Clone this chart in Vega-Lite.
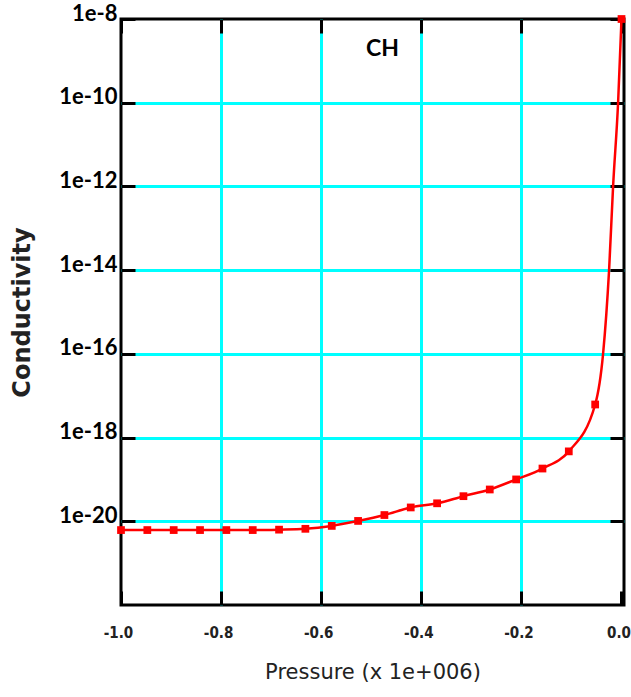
{
  "$schema": "https://vega.github.io/schema/vega-lite/v6.json",
  "autosize": "none",
  "padding": {"left": 121, "top": 19, "right": 7, "bottom": 92},
  "width": 503,
  "height": 586,
  "background": "white",
  "config": {
    "view": {"stroke": "black", "strokeWidth": 3},
    "axis": {"domain": false}
  },
  "title": {
    "text": "CH",
    "font": "Lato",
    "fontSize": 23,
    "fontWeight": "bold",
    "color": "black",
    "anchor": "middle",
    "frame": "group",
    "baseline": "middle",
    "offset": -70,
    "dx": 10
  },
  "data": {
    "values": [
      {"pressure": -1.0, "conductivity": 6.17e-21, "marker": true},
      {"pressure": -0.9474, "conductivity": 6.17e-21, "marker": true},
      {"pressure": -0.8947, "conductivity": 6.17e-21, "marker": true},
      {"pressure": -0.8421, "conductivity": 6.17e-21, "marker": true},
      {"pressure": -0.7895, "conductivity": 6.17e-21, "marker": true},
      {"pressure": -0.7368, "conductivity": 6.17e-21, "marker": true},
      {"pressure": -0.6842, "conductivity": 6.31e-21, "marker": true},
      {"pressure": -0.6316, "conductivity": 6.61e-21, "marker": true},
      {"pressure": -0.5789, "conductivity": 7.76e-21, "marker": true},
      {"pressure": -0.5263, "conductivity": 1.02e-20, "marker": true},
      {"pressure": -0.4737, "conductivity": 1.41e-20, "marker": true},
      {"pressure": -0.4211, "conductivity": 2.14e-20, "marker": true},
      {"pressure": -0.3684, "conductivity": 2.69e-20, "marker": true},
      {"pressure": -0.3158, "conductivity": 3.98e-20, "marker": true},
      {"pressure": -0.2632, "conductivity": 5.75e-20, "marker": true},
      {"pressure": -0.2105, "conductivity": 1.0e-19, "marker": true},
      {"pressure": -0.1579, "conductivity": 1.82e-19, "marker": true},
      {"pressure": -0.1053, "conductivity": 4.68e-19, "marker": true},
      {"pressure": -0.0526, "conductivity": 6.17e-18, "marker": true},
      {"pressure": -0.0368, "conductivity": 1.0e-16, "marker": false},
      {"pressure": -0.0248, "conductivity": 1.0e-14, "marker": false},
      {"pressure": -0.0168, "conductivity": 1.0e-12, "marker": false},
      {"pressure": -0.0068, "conductivity": 1.0e-10, "marker": false},
      {"pressure": 0.0, "conductivity": 1.0e-8, "marker": true}
    ]
  },
  "resolve": {"axis": {"x": "independent", "y": "independent"}},
  "layer": [
    {
      "mark": {"type": "line", "color": "#ff0000", "strokeWidth": 2.5, "interpolate": "monotone", "clip": false},
      "encoding": {
        "x": {
          "field": "pressure", "type": "quantitative",
          "scale": {"domain": [-1, 0.005], "nice": false, "zero": false},
          "axis": {
            "orient": "bottom",
            "values": [-1, -0.8, -0.6, -0.4, -0.2, 0],
            "labelExpr": "datum.value == 0 ? '0.0' : '-' + format(abs(datum.value), '.1f')",
            "labelFont": "Liberation Sans Narrow, DejaVu Sans Condensed, Liberation Sans",
            "labelFontSize": 15,
            "labelFontWeight": "bold",
            "labelColor": "#222222",
            "labelBaseline": "middle",
            "labelFlush": false,
            "labelOffset": -3,
            "labelPadding": 41,
            "tickSize": -14,
            "tickWidth": 3,
            "tickColor": "black",
            "grid": true,
            "gridWidth": 3,
            "gridColor": {"condition": {"test": "datum.value <= -0.99 || datum.value >= -0.01", "value": "transparent"}, "value": "#00ffff"},
            "title": "Pressure (x 1e+006)",
            "titleFont": "DejaVu Sans",
            "titleFontSize": 21,
            "titleFontWeight": "normal",
            "titleColor": "#222222",
            "titlePadding": 21
          }
        },
        "y": {
          "field": "conductivity", "type": "quantitative",
          "scale": {"type": "log", "domain": [1e-22, 1e-8], "nice": false},
          "axis": {
            "orient": "left",
            "values": [1e-20, 1e-18, 1e-16, 1e-14, 1e-12, 1e-10, 1e-8],
            "labelExpr": "'1e' + round(log(datum.value) / LN10)",
            "labelFont": "Lato",
            "labelFontSize": 22,
            "labelFontWeight": "bold",
            "labelColor": "black",
            "labelBaseline": "middle",
            "labelOffset": -6,
            "labelPadding": 18,
            "tickSize": -14,
            "tickWidth": 3,
            "tickColor": "black",
            "grid": true,
            "gridWidth": 3,
            "gridColor": {"condition": {"test": "datum.value > 5e-9", "value": "transparent"}, "value": "#00ffff"},
            "title": "Conductivity",
            "titleFont": "DejaVu Sans",
            "titleFontSize": 24,
            "titleFontWeight": "bold",
            "titleColor": "#222222",
            "titlePadding": 24
          }
        }
      }
    },
    {
      "transform": [{"filter": "datum.marker"}],
      "mark": {"type": "point", "shape": "square", "filled": true, "color": "#ff0000", "size": 60, "opacity": 1, "clip": false},
      "encoding": {
        "x": {
          "field": "pressure", "type": "quantitative",
          "axis": {
            "orient": "top",
            "values": [-1, -0.8, -0.6, -0.4, -0.2, 0],
            "labels": false,
            "grid": false,
            "tickSize": -14,
            "tickWidth": 3,
            "tickColor": "black",
            "title": null
          }
        },
        "y": {
          "field": "conductivity", "type": "quantitative",
          "axis": {
            "orient": "right",
            "values": [1e-20, 1e-18, 1e-16, 1e-14, 1e-12, 1e-10, 1e-8],
            "labels": false,
            "grid": false,
            "tickSize": -14,
            "tickWidth": 3,
            "tickColor": "black",
            "title": null
          }
        }
      }
    }
  ]
}
